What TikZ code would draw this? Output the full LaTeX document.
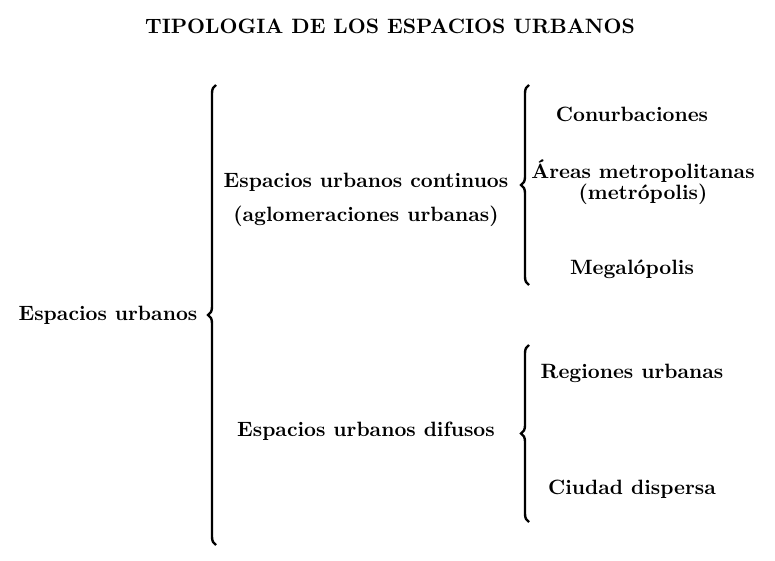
\documentclass[tikz,border=0pt]{standalone}
\usetikzlibrary{decorations.pathreplacing}
\begin{document}
\begin{tikzpicture}[x=0.5pt,y=-0.5pt,
  lbl/.style={font=\bfseries\fontsize{10.35}{12.4}\selectfont, inner sep=0pt, anchor=center},
  twoline/.style={lbl, align=center},
  bracket/.style={decorate, decoration={brace, amplitude=4pt}, line width=1.2pt}]
\useasboundingbox (0,0) rectangle (775,561);
\node[lbl, font=\bfseries\fontsize{10.4}{12.4}\selectfont] (title) at (390,26) {TIPOLOGIA DE LOS ESPACIOS URBANOS};
\node[lbl] (root) at (108,315) {Espacios urbanos};
\node[twoline] (cont) at (366,200) {Espacios urbanos continuos\\[4.6pt](aglomeraciones urbanas)};
\node[lbl] (dif) at (366,431) {Espacios urbanos difusos};
\node[lbl] (conurb) at (632,114) {Conurbaciones};
\node[twoline, font=\bfseries\fontsize{10.35}{10.6}\selectfont] (areas) at (643,182) {Áreas metropolitanas\\(metrópolis)};
\node[lbl] (mega) at (632,269) {Megalópolis};
\node[lbl] (reg) at (632,373) {Regiones urbanas};
\node[lbl] (ciudad) at (632,489) {Ciudad dispersa};
% brace end points
\coordinate (b1top) at (216,85);
\coordinate (b1bot) at (216,545);
\coordinate (b2top) at (529,85);
\coordinate (b2bot) at (529,285);
\coordinate (b3top) at (529,345);
\coordinate (b3bot) at (529,522);
\draw[bracket] (b1bot) -- (b1top);
\draw[bracket] (b2bot) -- (b2top);
\draw[bracket] (b3bot) -- (b3top);
\end{tikzpicture}
\end{document}
